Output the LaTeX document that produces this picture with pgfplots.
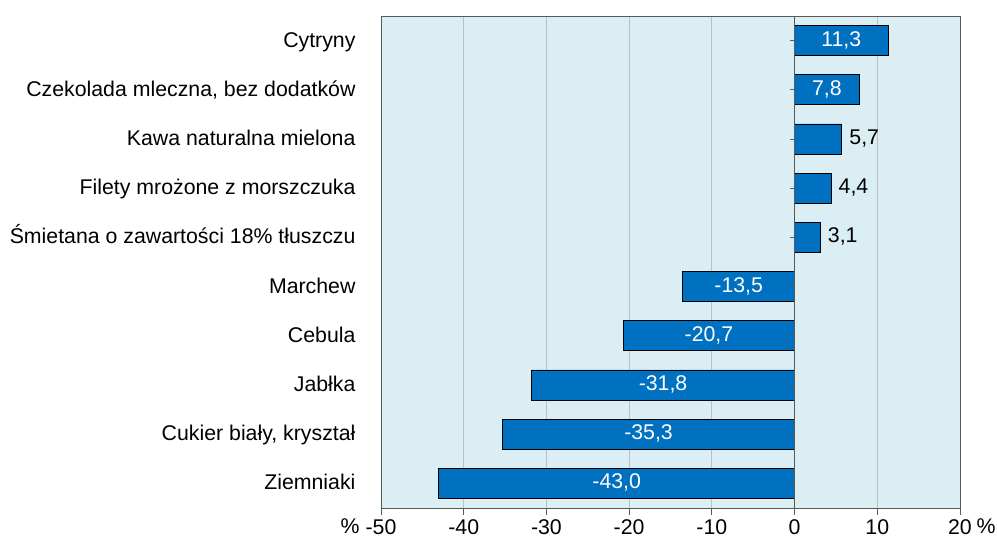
\documentclass[border=0pt]{standalone}
\usepackage{fontspec}
\setmainfont{Liberation Sans}
\usepackage{pgfplots}
\pgfplotsset{compat=1.18}
\definecolor{barblue}{RGB}{0,112,192}
\definecolor{bgblue}{RGB}{219,238,243}
\definecolor{gridgray}{RGB}{191,191,191}
\definecolor{axgray}{RGB}{89,89,89}
\newcommand{\chartfont}{\fontsize{21.3}{25}\selectfont}
\begin{document}
\begin{tikzpicture}[font=\chartfont]
\begin{axis}[
  name=ax, at={(0,0)}, anchor=south west,
  scale only axis, width=579pt, height=492pt,
  xmin=-50, xmax=20, ymin=-0.5, ymax=9.5,
  xbar, bar width=30pt, bar shift=0pt,
  axis background/.style={fill=bgblue},
  axis line style={axgray, line width=0.8pt},
  xtick={-50,-40,...,20},
  xtick pos=lower,
  xmajorgrids, grid style={gridgray, line width=0.8pt},
  ytick={0,...,9},
  yticklabels={Ziemniaki, {Cukier biały, kryształ}, Jabłka, Cebula, Marchew, {Śmietana o zawartości 18\% tłuszczu}, Filety mrożone z morszczuka, Kawa naturalna mielona, {Czekolada mleczna, bez dodatków}, Cytryny},
  y tick style={draw=none},
  x tick style={axgray, line width=0.8pt},
  tick align=outside, major tick length=7pt,
  tick label style={font=\chartfont},
  yticklabel style={xshift=-15pt, text height=15pt, text depth=4pt, yshift=-1pt},
  xticklabel style={yshift=-1pt},
  /pgf/number format/assume math mode=true,
  clip=false,
  point meta=x,
  nodes near coords={\pgfmathprintnumber[fixed,fixed zerofill,precision=1,use comma,assume math mode=true]{\pgfplotspointmeta}},
]
\addplot[fill=barblue, draw=black, line width=0.8pt,
  visualization depends on={rawx \as \rawx},
  nodes near coords style={white, anchor=center, xshift={-4.1357pt*\rawx}, font=\chartfont, text height=15pt, text depth=4pt}]
  coordinates {(11.3,9) (7.8,8) (-13.5,4) (-20.7,3) (-31.8,2) (-35.3,1) (-43.0,0)};
\addplot[fill=barblue, draw=black, line width=0.8pt,
  nodes near coords style={black, anchor=west, xshift=4pt, font=\chartfont, text height=15pt, text depth=4pt}]
  coordinates {(5.7,7) (4.4,6) (3.1,5)};
\draw[axgray, line width=1pt] (axis cs:0,-0.5) -- (axis cs:0,9.5);
\pgfplotsinvokeforeach{0,...,9}{\draw[axgray, line width=0.8pt] (axis cs:0,#1) -- ([xshift=-5pt]axis cs:0,#1);}
\end{axis}
\node at ([xshift=-31pt, yshift=-18pt]ax.south west) {\%};
\node at ([xshift=26pt, yshift=-18pt]ax.south east) {\%};
\pgfresetboundingbox
\useasboundingbox (-381pt,-30pt) rectangle (616pt,508pt);
\end{tikzpicture}
\end{document}
